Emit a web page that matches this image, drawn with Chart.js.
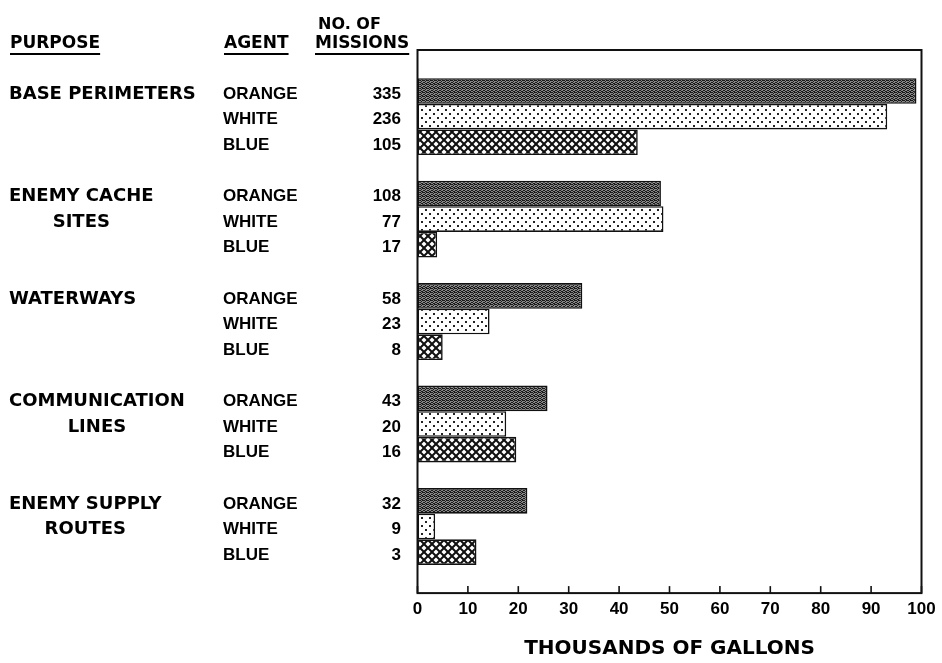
<!DOCTYPE html>
<html lang="en">
<head>
<meta charset="UTF-8">
<title>Herbicide Missions by Purpose</title>
<script src="https://cdn.jsdelivr.net/npm/chart.js"></script>
<style>
  html, body { margin: 0; padding: 0; background: #fff; }
</style>
</head>
<body>
<canvas id="missionChart" width="942" height="663"></canvas>
<script>
// data
const purposes = [['BASE PERIMETERS'], ['ENEMY CACHE', 'SITES'], ['WATERWAYS'], ['COMMUNICATION', 'LINES'], ['ENEMY SUPPLY', 'ROUTES']];
const agents = ['ORANGE', 'WHITE', 'BLUE'];
// thousands of gallons
const orangeGallons = [99, 48.3, 32.7, 25.8, 21.8];
const whiteGallons = [93.2, 48.8, 14.3, 17.6, 3.5];
const blueGallons = [43.7, 3.9, 5.0, 19.6, 11.7];
// no. of missions
const orangeMissions = [335, 108, 58, 43, 32];
const whiteMissions = [236, 77, 23, 20, 9];
const blueMissions = [105, 17, 8, 16, 3];
const xTicks = [0, 10, 20, 30, 40, 50, 60, 70, 80, 90, 100];

const ctx = document.getElementById('missionChart').getContext('2d');

function makePattern(size, draw) {
    const c = document.createElement('canvas');
    c.width = size; c.height = size;
    draw(c.getContext('2d'), size);
    return ctx.createPattern(c, 'repeat');
}

// dark stipple for orange
const orangeFill = makePattern(4, (g, s) => {
    g.fillStyle = '#868686';
    g.fillRect(0, 0, s, s);
    g.fillStyle = '#1a1a1a';
    [[0,0],[2,0],[1,1],[3,2],[0,2],[2,3],[1,3],[3,0]].forEach(p => g.fillRect(p[0], p[1], 1, 1));
});
// light dots for white
const whiteFill = makePattern(8, (g, s) => {
    g.fillStyle = '#fff';
    g.fillRect(0, 0, s, s);
    g.fillStyle = '#222';
    g.fillRect(1, 1, 2, 2);
    g.fillRect(5, 5, 2, 2);
});
// crosshatch for blue
const blueFill = makePattern(8, (g, s) => {
    g.fillStyle = '#fff';
    g.fillRect(0, 0, s, s);
    g.strokeStyle = '#111';
    g.lineWidth = 2;
    [-s, 0, s].forEach(k => {
        g.beginPath(); g.moveTo(k - 1, -1); g.lineTo(k + s + 1, s + 1); g.stroke();
        g.beginPath(); g.moveTo(k + s + 1, -1); g.lineTo(k - 1, s + 1); g.stroke();
    });
});

function rows(values) {
    return values.map((v, i) => ({ x: v, y: i }));
}

const missions = [orangeMissions, whiteMissions, blueMissions];
const headFont = 'bold 17px "DejaVu Sans"';
const purposeFont = 'bold 18px "DejaVu Sans"';
const smallFont = 'bold 17px "Liberation Sans"';

const tablePlugin = {
    id: 'tablePlugin',
    afterDraw(chart) {
        const g = chart.ctx;
        const area = chart.chartArea;
        const xs = chart.scales.x;
        g.save();
        // frame
        g.strokeStyle = '#111';
        g.lineWidth = 2;
        g.strokeRect(area.left, area.top, area.right - area.left, area.bottom - area.top);
        // inward ticks
        g.lineWidth = 1.6;
        xs.ticks.forEach(t => {
            const px = xs.getPixelForValue(t.value);
            g.beginPath(); g.moveTo(px, area.bottom); g.lineTo(px, area.bottom - 7); g.stroke();
        });

        g.fillStyle = '#000';
        g.textBaseline = 'middle';
        // column headers
        g.font = 'bold 16px "DejaVu Sans"';
        g.textAlign = 'left';
        g.fillText('NO. OF', 318, 25);
        g.font = headFont;
        [['PURPOSE', 10], ['AGENT', 224], ['MISSIONS', 315]].forEach(h => {
            g.fillText(h[0], h[1], 44);
            const w = g.measureText(h[0]).width;
            g.fillRect(h[1], 53, w, 2);
        });

        // rows
        const metas = [0, 1, 2].map(i => chart.getDatasetMeta(i));
        purposes.forEach((lines, j) => {
            const y0 = metas[0].data[j].y + 3;
            const y1 = metas[1].data[j].y + 3;
            g.font = purposeFont;
            g.textAlign = 'left';
            g.fillText(lines[0], 9, y0);
            if (lines.length > 1) {
                const w = g.measureText(lines[0]).width;
                g.textAlign = 'center';
                g.fillText(lines[1], 9 + w / 2, y1);
            }
            g.font = smallFont;
            agents.forEach((a, i) => {
                const y = metas[i].data[j].y + 3;
                g.textAlign = 'left';
                g.fillText(a, 223, y);
                g.textAlign = 'right';
                g.fillText(String(missions[i][j]), 401, y);
            });
        });
        g.restore();
    }
};

new Chart(ctx, {
    type: 'bar',
    data: {
        datasets: [
            { label: 'ORANGE', data: rows(orangeGallons), backgroundColor: orangeFill },
            { label: 'WHITE', data: rows(whiteGallons), backgroundColor: whiteFill },
            { label: 'BLUE', data: rows(blueGallons), backgroundColor: blueFill }
        ]
    },
    options: {
        responsive: false,
        animation: false,
        indexAxis: 'y',
        layout: { padding: { left: 417.5, right: 20.5, top: 50, bottom: 2 } },
        datasets: {
            bar: {
                borderColor: '#111',
                borderWidth: 1.6,
                borderSkipped: false,
                categoryPercentage: 0.75,
                barPercentage: 1.0
            }
        },
        plugins: {
            legend: { display: false },
            tooltip: { enabled: false }
        },
        scales: {
            y: {
                type: 'linear',
                reverse: true,
                offset: false,
                min: -0.65,
                max: 4.65,
                afterBuildTicks: s => { s.ticks = purposes.map((p, i) => ({ value: i })); },
                display: false
            },
            x: {
                type: 'linear',
                min: 0,
                max: 100,
                afterBuildTicks: s => { s.ticks = xTicks.map(v => ({ value: v })); },
                grid: { display: false, drawTicks: false },
                border: { display: false },
                ticks: {
                    color: '#000',
                    padding: 6,
                    font: { family: 'Liberation Sans', size: 17, weight: 'bold' }
                },
                title: {
                    display: true,
                    text: 'THOUSANDS OF GALLONS',
                    color: '#000',
                    padding: { top: 11.5, bottom: 0 },
                    font: { family: 'DejaVu Sans', size: 20, weight: 'bold' }
                }
            }
        }
    },
    plugins: [tablePlugin]
});
</script>
</body>
</html>
